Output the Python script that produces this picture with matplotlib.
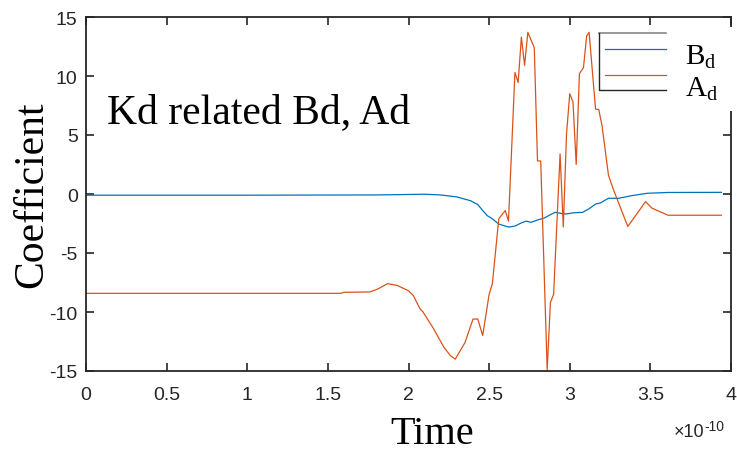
import numpy as np
import matplotlib
matplotlib.use("Agg")
import matplotlib.pyplot as plt
from matplotlib.ticker import MultipleLocator, FuncFormatter
from matplotlib.patches import Rectangle
from matplotlib.lines import Line2D

plt.rcParams["font.family"] = ["Liberation Sans", "DejaVu Sans"]
plt.rcParams["axes.unicode_minus"] = False

# time in units of 1e-10 s
t_bd = [0, 1.0, 1.8, 2.1, 2.2, 2.3, 2.385, 2.43, 2.46, 2.49, 2.52, 2.56, 2.62,
        2.66, 2.70, 2.73, 2.76, 2.80, 2.84, 2.88, 2.91, 2.95, 2.975, 3.02, 3.08,
        3.12, 3.16, 3.19, 3.24, 3.30, 3.38, 3.48, 3.61, 3.94]
bd = [-0.10, -0.10, -0.08, -0.02, -0.08, -0.25, -0.57, -0.9, -1.4, -1.85, -2.1,
      -2.55, -2.8, -2.72, -2.45, -2.3, -2.4, -2.2, -2.05, -1.75, -1.55, -1.65,
      -1.7, -1.6, -1.55, -1.25, -0.85, -0.76, -0.36, -0.37, -0.15, 0.06, 0.13, 0.14]

t_ad = [0, 1.58, 1.60, 1.76, 1.81, 1.87, 1.93, 2.00, 2.03, 2.07, 2.09, 2.155,
        2.22, 2.26, 2.29, 2.35, 2.40, 2.43, 2.46, 2.50, 2.52, 2.56, 2.60, 2.62,
        2.645, 2.66, 2.68, 2.70, 2.72, 2.74, 2.78, 2.80, 2.82, 2.86, 2.88, 2.90,
        2.94, 2.96, 2.98, 3.00, 3.02, 3.04, 3.06, 3.085, 3.105, 3.12, 3.16, 3.18,
        3.20, 3.24, 3.27, 3.36, 3.47, 3.51, 3.61, 3.94]
ad = [-8.42, -8.42, -8.33, -8.3, -8.05, -7.6, -7.75, -8.2, -8.6, -9.7, -10.0,
      -11.4, -13.0, -13.7, -14.0, -12.6, -10.6, -10.6, -12.0, -8.5, -7.6, -2.1,
      -1.4, -2.3, 5.5, 10.3, 9.45, 13.3, 10.9, 13.7, 12.4, 2.8, 2.8, -14.9,
      -9.2, -8.5, 3.4, -2.8, 5.1, 8.5, 7.8, 2.5, 10.2, 10.7, 13.4, 13.7, 7.2,
      7.15, 5.8, 1.6, 0.4, -2.75, -0.65, -1.2, -1.8, -1.8]

scale = 1e-10
blue = "#0072BD"
orange = "#D95319"
dark = "#262626"
serif = "Liberation Serif"

fig = plt.figure(figsize=(7.37, 4.52), dpi=100)
ax = fig.add_axes([86/737, 80/452, 645/737, 354/452])

ax.plot(np.array(t_bd) * scale, bd, color=blue, lw=0.9)
ax.plot(np.array(t_ad) * scale, ad, color=orange, lw=0.9)

ax.set_xlim(0, 4 * scale)
ax.set_ylim(-15, 15)
ax.xaxis.set_major_locator(MultipleLocator(0.5 * scale))
ax.yaxis.set_major_locator(MultipleLocator(5))
ax.xaxis.set_major_formatter(FuncFormatter(lambda v, p: f"{v / scale:g}"))
ax.tick_params(direction="in", length=6, width=1.2, colors=dark,
               labelsize=14, top=True, right=True)
ax.tick_params(axis="x", pad=11)
ax.tick_params(axis="y", pad=6)
for s in ax.spines.values():
    s.set_linewidth(1.3)
    s.set_color(dark)

# exponent for the time axis, written out as ×10 with a raised -10
ax.text(0.958, -0.147, "\u00d710", transform=ax.transAxes,
        ha="right", va="top", fontsize=13, color=dark)
ax.text(0.958, -0.135, "-10", transform=ax.transAxes,
        ha="left", va="top", fontsize=10, color=dark)

ax.set_xlabel("Time", fontsize=29, fontfamily=serif)
ax.xaxis.set_label_coords(0.536, -0.2034)
ax.xaxis.label.set_va("baseline")
ax.set_ylabel("Coefficient", fontsize=30, fontfamily=serif)
ax.yaxis.set_label_coords(-0.054, 0.5)

ax.text(0.0326, 0.703, "Kd related Bd, Ad", transform=ax.transAxes,
        fontsize=30, fontfamily=serif, va="baseline")

# legend drawn by hand: white panel over the top-right corner, half-open frame
ax.add_patch(Rectangle((0.797, 0.734), 0.25, 0.238, transform=ax.transAxes,
                       facecolor="white", edgecolor="none", clip_on=False, zorder=5))
ax.add_line(Line2D([0.7953, 0.899], [0.955, 0.955], transform=ax.transAxes,
                   color="#888888", lw=1.2, clip_on=False, zorder=6))
ax.add_line(Line2D([0.7953, 0.7953, 0.899], [0.955, 0.794, 0.794], transform=ax.transAxes,
                   color=dark, lw=1.0, clip_on=False, zorder=6))
ax.add_line(Line2D([0.805, 0.899], [0.910, 0.910], transform=ax.transAxes,
                   color=blue, lw=0.9, clip_on=False, zorder=6))
ax.add_line(Line2D([0.805, 0.899], [0.836, 0.836], transform=ax.transAxes,
                   color=orange, lw=0.9, clip_on=False, zorder=6))
ax.text(0.929, 0.867, r"$\mathregular{B_d}$", transform=ax.transAxes,
        fontsize=21, fontfamily=serif, va="baseline", zorder=7, clip_on=False)
ax.text(0.929, 0.777, r"$\mathregular{A_d}$", transform=ax.transAxes,
        fontsize=21, fontfamily=serif, va="baseline", zorder=7, clip_on=False)

fig.savefig("out.png", dpi=100)
